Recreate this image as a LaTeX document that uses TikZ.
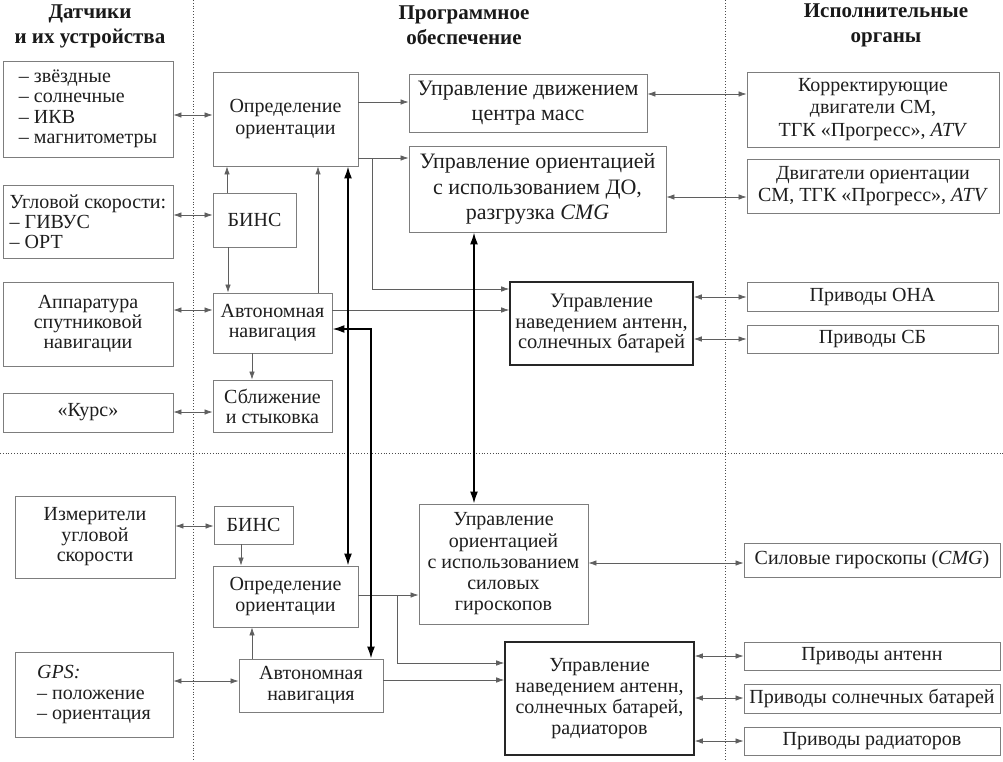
\documentclass[tikz,border=0pt]{standalone}
\usepackage{fontspec}
\setmainfont{Liberation Serif}
\usetikzlibrary{arrows.meta}
\definecolor{boxc}{RGB}{125,125,125}
\definecolor{linec}{RGB}{95,95,95}
\definecolor{txtc}{RGB}{30,30,30}
\tikzset{
  box/.style={draw=boxc, line width=0.9pt, inner sep=0pt, align=center, text=txtc,
    font=\fontsize{20}{21}\selectfont},
  boldbox/.style={box, draw=black!85, line width=1.6pt},
  hdr/.style={inner sep=0pt, align=center, font=\fontsize{21}{25}\selectfont\bfseries, text=black!90},
  conn/.style={draw=linec, line width=0.7pt, -{Latex[length=8pt,width=5.5pt]}},
  biconn/.style={draw=linec, line width=0.7pt, {Latex[length=8pt,width=5.5pt]}-{Latex[length=8pt,width=5.5pt]}},
  tconn/.style={draw=black, line width=1.7pt, {Latex[length=12pt,width=8pt]}-{Latex[length=12pt,width=8pt]}},
  divider/.style={draw=black!70, line width=0.8pt, dotted}
}
\begin{document}
\begin{tikzpicture}[x=1pt,y=-1pt]
\useasboundingbox (0,0) rectangle (1003,761);
% dividers
\draw[divider] (193,0) -- (193,761);
\draw[divider] (725,0) -- (725,761);
\draw[divider] (0,453) -- (1003,453);
% headers
\node[hdr] (h1) at (90,26.5) {Датчики\\и их устройства};
\node[hdr] (h2) at (464,25.5) {Программное\\обеспечение};
\node[hdr] (h3) at (886,25.5) {Исполнительные\\органы};
% left column
\node[box, minimum width=170, minimum height=96, align=left, font=\fontsize{20}{20.5}\selectfont] (s1) at (88,109) {– звёздные\\– солнечные\\– ИКВ\\– магнитометры};
\node[box, minimum width=170, minimum height=73, align=left, font=\fontsize{20}{20}\selectfont] (s2) at (88,221.5) {Угловой скорости:\\– ГИВУС\\– ОРТ};
\node[box, minimum width=170, minimum height=84, font=\fontsize{20}{20}\selectfont] (s3) at (88,324) {Аппаратура\\спутниковой\\навигации};
\node[box, minimum width=170, minimum height=39] (s4) at (88,412.5) {«Курс»};
\node[box, minimum width=160, minimum height=82, font=\fontsize{20}{20.5}\selectfont] (s5) at (95,537) {Измерители\\угловой\\скорости};
\node[box, minimum width=158, minimum height=85, align=left, font=\fontsize{20}{20.5}\selectfont] (s6) at (94,694.5) {\textit{GPS:}\\– положение\\– ориентация};
% middle-left column
\node[box, minimum width=145, minimum height=94, font=\fontsize{20}{22}\selectfont] (opr1) at (285.5,119) {Определение\\ориентации};
\node[box, minimum width=83, minimum height=54] (bins1) at (254.5,220) {БИНС};
\node[box, minimum width=119, minimum height=60, font=\fontsize{20}{20}\selectfont] (avt1) at (272.5,323) {Автономная\\навигация};
\node[box, minimum width=119, minimum height=52, font=\fontsize{20}{20}\selectfont] (sbl) at (272.5,406) {Сближение\\и стыковка};
\node[box, minimum width=79, minimum height=38] (bins2) at (253.5,525) {БИНС};
\node[box, minimum width=145, minimum height=61, font=\fontsize{20}{21}\selectfont] (opr2) at (285.5,596.5) {Определение\\ориентации};
\node[box, minimum width=144, minimum height=53, font=\fontsize{20}{21}\selectfont] (avt2) at (311,685.5) {Автономная\\навигация};
% middle-right column
\node[box, minimum width=238, minimum height=58, font=\fontsize{22}{25}\selectfont] (dvm) at (528,103) {Управление движением\\центра масс};
\node[box, minimum width=257, minimum height=86, font=\fontsize{22}{25.5}\selectfont] (do) at (537.5,189) {Управление ориентацией\\с использованием ДО,\\разгрузка \textit{CMG}};
\node[boldbox, minimum width=183, minimum height=83, font=\fontsize{20.5}{20.5}\selectfont] (nav1) at (601.5,323.5) {Управление\\наведением антенн,\\солнечных батарей};
\node[box, minimum width=169, minimum height=120, font=\fontsize{20}{21.25}\selectfont] (sg) at (503.5,564) {Управление\\ориентацией\\с использованием\\силовых\\гироскопов};
\node[boldbox, minimum width=189, minimum height=113, font=\fontsize{20}{21}\selectfont] (nav2) at (599.5,698.5) {Управление\\наведением антенн,\\солнечных батарей,\\радиаторов};
% right column
\node[box, minimum width=252, minimum height=75, font=\fontsize{20}{22.5}\selectfont] (a1) at (873,109.5) {Корректирующие\\двигатели СМ,\\ТГК «Прогресс», \textit{ATV}};
\node[box, minimum width=252, minimum height=54, font=\fontsize{20}{22}\selectfont] (a2) at (873,186) {Двигатели ориентации\\СМ, ТГК «Прогресс», \textit{ATV}};
\node[box, minimum width=251, minimum height=29] (a3) at (872.5,296.5) {Приводы ОНА};
\node[box, minimum width=251, minimum height=28] (a4) at (872.5,339) {Приводы СБ};
\node[box, minimum width=256, minimum height=34] (a5) at (872,560) {Силовые гироскопы (\textit{CMG})};
\node[box, minimum width=256, minimum height=28] (a6) at (872,656) {Приводы антенн};
\node[box, minimum width=256, minimum height=29] (a7) at (872,698.5) {Приводы солнечных батарей};
\node[box, minimum width=256, minimum height=28] (a8) at (872,741) {Приводы радиаторов};
% junction coordinates
\coordinate (j1) at (372,158);
\coordinate (j2) at (397,595);
% sensor links
\draw[biconn] (s1.east |- 0,115) -- (opr1.west |- 0,115);
\draw[biconn] (s2.east |- 0,215) -- (bins1.west |- 0,215);
\draw[biconn] (s3.east |- 0,310) -- (avt1.west |- 0,310);
\draw[biconn] (s4.east |- 0,412) -- (sbl.west |- 0,412);
\draw[biconn] (s5.east |- 0,526) -- (bins2.west |- 0,526);
\draw[biconn] (s6.east |- 0,681) -- (avt2.west |- 0,681);
% upper software links
\draw[conn] (opr1.east |- 0,102) -- (dvm.west |- 0,102);
\draw[conn] (opr1.east |- 0,158) -- (do.west |- 0,158);
\draw[conn] (j1) |- (nav1.west |- 0,289);
\draw[conn] (avt1.east |- 0,310) -- (nav1.west |- 0,310);
\draw[conn] (bins1.north -| 227,0) -- (opr1.south -| 227,0);
\draw[conn] (bins1.south -| 228,0) -- (avt1.north -| 228,0);
\draw[conn] (avt1.north -| 318,0) -- (opr1.south -| 318,0);
\draw[conn] (avt1.south -| 252,0) -- (sbl.north -| 252,0);
% actuator links (upper)
\draw[biconn] (dvm.east |- 0,94) -- (a1.west |- 0,94);
\draw[biconn] (do.east |- 0,197) -- (a2.west |- 0,197);
\draw[biconn] (nav1.east |- 0,297) -- (a3.west |- 0,297);
\draw[biconn] (nav1.east |- 0,339) -- (a4.west |- 0,339);
% lower software links
\draw[conn] (bins2.south -| 241,0) -- (opr2.north -| 241,0);
\draw[conn] (avt2.north -| 252,0) -- (opr2.south -| 252,0);
\draw[conn] (opr2.east |- 0,595) -- (sg.west |- 0,595);
\draw[conn] (j2) |- (nav2.west |- 0,663);
\draw[conn] (avt2.east |- 0,680) -- (nav2.west |- 0,680);
% actuator links (lower)
\draw[biconn] (sg.east |- 0,563) -- (a5.west |- 0,563);
\draw[biconn] (nav2.east |- 0,656) -- (a6.west |- 0,656);
\draw[biconn] (nav2.east |- 0,698) -- (a7.west |- 0,698);
\draw[biconn] (nav2.east |- 0,741) -- (a8.west |- 0,741);
% thick links
\draw[tconn] (opr1.south -| 348,0) -- (opr2.north -| 348,0);
\draw[tconn] (avt1.east |- 0,329) -| (avt2.north -| 371,0);
\draw[tconn] (do.south -| 474,0) -- (sg.north -| 474,0);
\end{tikzpicture}
\end{document}
